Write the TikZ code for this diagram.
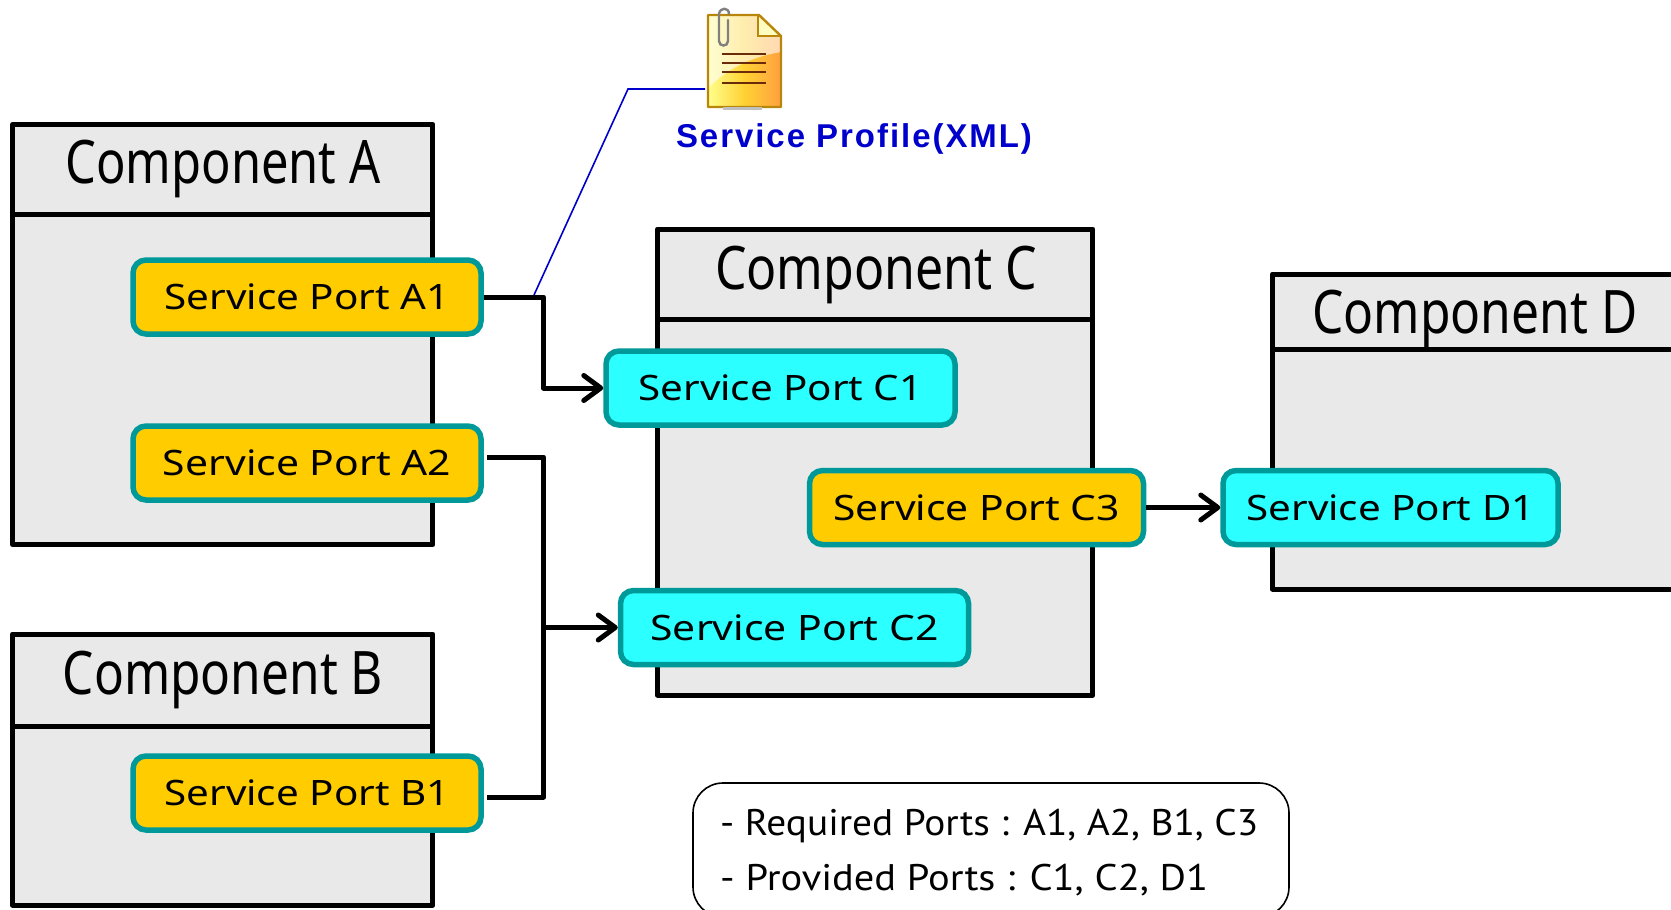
\documentclass[tikz,border=0pt]{standalone}
\usepackage{fontspec}
\usepackage{graphicx}
\setmainfont{Noto Sans}
\newfontfamily\legendfont{PT Sans}
\newfontfamily\profilefont{Liberation Sans}[LetterSpace=6]
\usetikzlibrary{arrows.meta}
\definecolor{compgray}{HTML}{E9E9E9}
\definecolor{portedge}{HTML}{009999}
\definecolor{reqfill}{HTML}{FFCC00}
\definecolor{provfill}{HTML}{2BFFFF}
\definecolor{profileblue}{HTML}{0000CC}
\definecolor{iconedge}{HTML}{B8860B}
\definecolor{iconline}{HTML}{6B2A0A}
\newcommand{\fitw}[2]{\resizebox{#1}{\height}{#2}}
\tikzset{
  comp/.style={draw=black,fill=compgray,line width=5pt,minimum width=#1,inner sep=0pt,line join=round},
  comptitle/.style={inner sep=0pt,font=\fontsize{60}{60}\selectfont\bfseries},
  port/.style={draw=portedge,line width=5.5pt,rounded corners=13pt,inner sep=0pt,minimum height=74pt,font=\fontsize{35}{35}\selectfont\bfseries},
  req/.style={port,fill=reqfill},
  prov/.style={port,fill=provfill},
  conn/.style={draw=black,line width=5pt,line join=round},
  connarrow/.style={conn,-{Straight Barb[length=17pt,width=25pt,round]}},
  legendtext/.style={inner sep=0pt,anchor=base west,font=\fontsize{37}{37}\selectfont\legendfont},
}
\begin{document}
\begin{tikzpicture}[x=1pt,y=-1pt]
\useasboundingbox (0,0) rectangle (1671,910);
\clip (0,0) rectangle (1671,910);
% Components
\node[comp=420.5pt,minimum height=420pt] (compA) at (222.7,334.5) {};
\draw[conn] (compA.west |- 0,214) -- (compA.east |- 0,214);
\node[comp=420.5pt,minimum height=271pt] (compB) at (222.7,769.5) {};
\draw[conn] (compB.west |- 0,726) -- (compB.east |- 0,726);
\node[comp=435.5pt,minimum height=466pt] (compC) at (875.2,462) {};
\draw[conn] (compC.west |- 0,319) -- (compC.east |- 0,319);
\node[comp=500pt,minimum height=315pt] (compD) at (1522.5,431.5) {};
\draw[conn] (compD.west |- 0,349.5) -- (compD.east |- 0,349.5);
\node[comptitle] (titleA) at (223,169) {\fitw{315pt}{Component A}};
\node[comptitle] (titleB) at (223,680) {\fitw{320pt}{Component B}};
\node[comptitle] (titleC) at (876,275) {\fitw{322pt}{Component C}};
\node[comptitle] (titleD) at (1475,319) {\fitw{325pt}{Component D}};
% Ports
\node[req,minimum width=348pt] (A1) at (307,297) {\fitw{285pt}{Service Port A1}};
\node[req,minimum width=348pt] (A2) at (307,463) {\fitw{288pt}{Service Port A2}};
\node[req,minimum width=348pt] (B1) at (307,793) {\fitw{285pt}{Service Port B1}};
\node[prov,minimum width=349pt] (C1) at (780.5,388) {\fitw{284pt}{Service Port C1}};
\node[prov,minimum width=348pt] (C2) at (794.5,627.5) {\fitw{288pt}{Service Port C2}};
\node[req,minimum width=334pt] (C3) at (976.5,507.5) {\fitw{287pt}{Service Port C3}};
\node[prov,minimum width=335pt] (D1) at (1390.5,507.5) {\fitw{288pt}{Service Port D1}};
% Connectors
\coordinate (bus) at (543.5,0);
\coordinate (a2out) at ([yshift=6pt,xshift=3pt]A2.east);
\coordinate (b1out) at ([yshift=-4pt,xshift=3pt]B1.east);
\draw[connarrow] (A1.east) -| (bus |- C1.west) -- (C1.west);
\draw[conn] (a2out) -| (bus |- b1out) -- (b1out);
\draw[connarrow] (bus |- C2.west) -- (C2.west);
\draw[connarrow] (C3.east) -- (D1.west);
% Service profile icon
\coordinate (iconleft) at (705,89);
\coordinate (bend) at (628,89);
\coordinate (tap) at (534,295);
\draw[profileblue,line width=1.6pt] (iconleft) -- (bend) -- (tap);
\begin{scope}
  \path[left color=yellow!45,right color=orange!75,middle color=yellow!55!orange!80]
    (708,15) -- (759,15) -- (781,36) -- (781,107) -- (708,107) -- cycle;
  \fill[white,opacity=.6] (708,15) -- (759,15) -- (781,36) -- (781,52) .. controls (745,58) and (725,72) .. (708,88) -- cycle;
  \fill[yellow!25] (758,16) -- (758,36) -- (780,36) -- cycle;
  \draw[iconedge,line width=2.4pt,line join=round] (708,15) -- (759,15) -- (781,36) -- (781,107) -- (708,107) -- cycle;
  \draw[iconedge,line width=1.8pt] (758,16) -- (758,36) -- (780,36);
  \foreach \yy in {54,63,72,83}{\draw[iconline,line width=2.4pt] (722,\yy) -- (766,\yy);}
  \draw[gray,line width=2.4pt,line cap=round] (729,14) .. controls (729,7) and (720,7) .. (719,14) -- (719,41) .. controls (719,47) and (728,47) .. (728,41) -- (728,20);
  \draw[gray!50,line width=2.2pt] (723,108.5) -- (762,108.5);
\end{scope}
\node[inner sep=0pt,text=profileblue,font=\fontsize{33}{33}\selectfont\profilefont\bfseries] (profile) at (854,138.5) {\fitw{356pt}{Service Profile(XML)}};
% Legend
\node[draw=black,line width=1.6pt,rounded corners=30pt,fill=white,minimum width=596pt,minimum height=134pt,inner sep=0pt] (legend) at (991,850) {};
\node[legendtext] (req) at (720,835) {\fitw{538pt}{- Required Ports : A1, A2, B1, C3}};
\node[legendtext] (pro) at (720,890) {\fitw{488pt}{- Provided Ports : C1, C2, D1}};
\end{tikzpicture}
\end{document}
